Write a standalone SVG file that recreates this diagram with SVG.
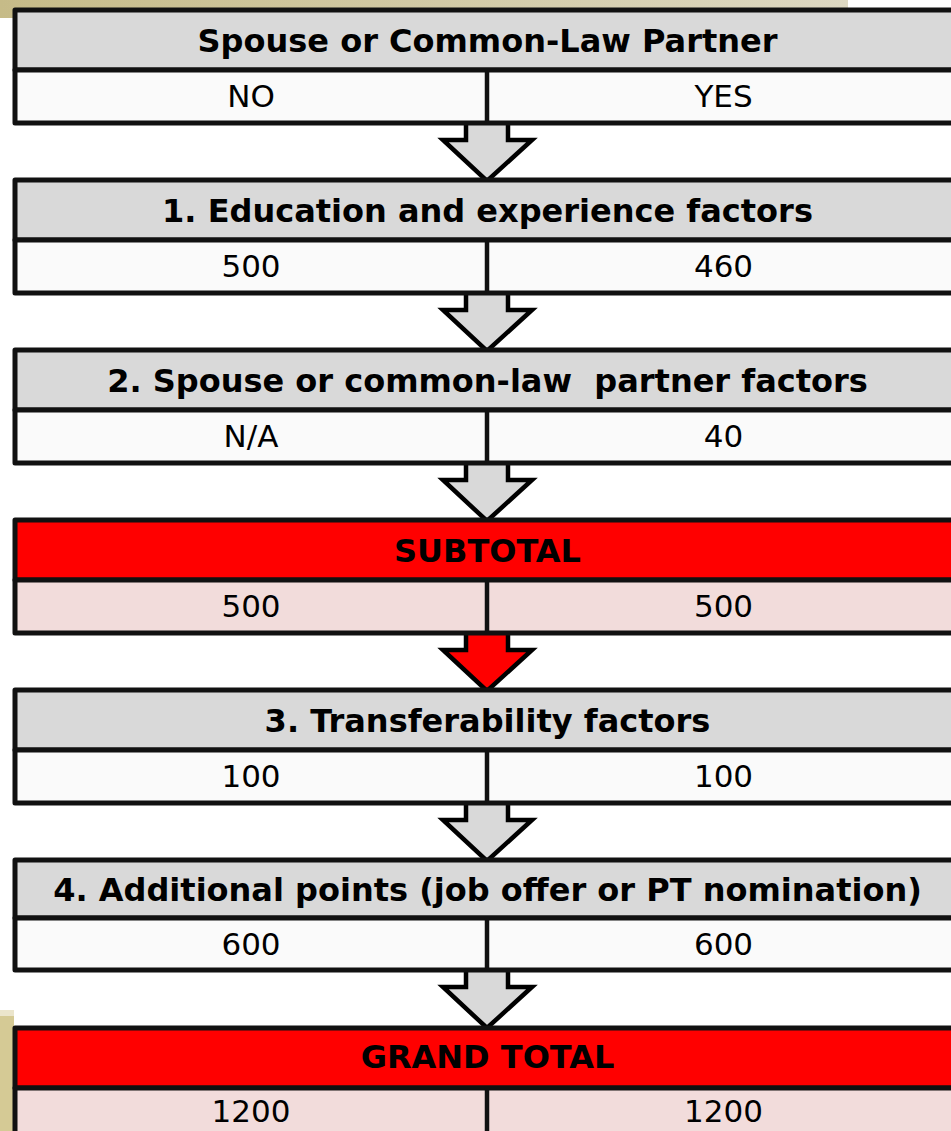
<svg xmlns="http://www.w3.org/2000/svg" width="951" height="1131" viewBox="0 0 951 1131">
<defs>
<linearGradient id="tan" x1="0" y1="0" x2="1" y2="0">
<stop offset="0" stop-color="#c6bb88"/>
<stop offset="1" stop-color="#ddd8c2"/>
</linearGradient>
<style>
.frame{stroke:#111;stroke-width:5;stroke-linejoin:round}
.hd{fill:#d9d9d9}
.rw{fill:#fafafa}
.rd{fill:#ff0000}
.pk{fill:#f2dcdb}
.ln{stroke:#111;stroke-width:4.5;fill:none}
.arr{stroke:#000;stroke-width:4.5;stroke-linejoin:miter}
.bt{font-family:"DejaVu Sans",Verdana,sans-serif;font-weight:bold;font-size:32px;text-anchor:middle;fill:#000}
.rt{font-family:"DejaVu Sans",Verdana,sans-serif;font-size:31px;text-anchor:middle;fill:#000}
</style>
</defs>
<rect width="951" height="1131" fill="#fff"/>
<rect x="0" y="0" width="848" height="18" fill="url(#tan)"/>
<rect x="0" y="1010" width="14" height="121" fill="#d5ca95"/>
<rect x="0" y="1010" width="14" height="6" fill="#ebe5cc"/>

<g id="connectors">
<path class="arr" fill="#d9d9d9" d="M466,123 V140 H443 L487,181 L532,140 H508 V123"/>
<path class="arr" fill="#d9d9d9" d="M466,293 V310 H443 L487,351 L532,310 H508 V293"/>
<path class="arr" fill="#d9d9d9" d="M466,463 V480 H443 L487,521 L532,480 H508 V463"/>
<path class="arr" fill="#ff0000" d="M466,633 V650 H443 L487,691 L532,650 H508 V633"/>
<path class="arr" fill="#d9d9d9" d="M466,803 V820 H443 L487,861 L532,820 H508 V803"/>
<path class="arr" fill="#d9d9d9" d="M466,970 V987 H443 L487,1028 L532,987 H508 V970"/>
</g>

<g id="node-spouse">
<rect class="hd frame" x="15" y="10" width="950" height="60"/>
<rect class="rw frame" x="15" y="70" width="950" height="53"/>
<line class="ln" x1="487" y1="70" x2="487" y2="123"/>
<text class="bt" x="487.5" y="52">Spouse or Common-Law Partner</text>
<text class="rt" x="251" y="107">NO</text>
<text class="rt" x="723.5" y="107">YES</text>
</g>

<g id="node-education">
<rect class="hd frame" x="15" y="180" width="950" height="60"/>
<rect class="rw frame" x="15" y="240" width="950" height="53"/>
<line class="ln" x1="487" y1="240" x2="487" y2="293"/>
<text class="bt" x="487.5" y="222">1. Education and experience factors</text>
<text class="rt" x="251" y="277">500</text>
<text class="rt" x="723.5" y="277">460</text>
</g>

<g id="node-partner">
<rect class="hd frame" x="15" y="350" width="950" height="60"/>
<rect class="rw frame" x="15" y="410" width="950" height="53"/>
<line class="ln" x1="487" y1="410" x2="487" y2="463"/>
<text class="bt" x="487.5" y="392" xml:space="preserve">2. Spouse or common-law  partner factors</text>
<text class="rt" x="251" y="447">N/A</text>
<text class="rt" x="723.5" y="447">40</text>
</g>

<g id="node-subtotal">
<rect class="rd frame" x="15" y="520" width="950" height="60"/>
<rect class="pk frame" x="15" y="580" width="950" height="53"/>
<line class="ln" x1="487" y1="580" x2="487" y2="633"/>
<text class="bt" x="487.5" y="562">SUBTOTAL</text>
<text class="rt" x="251" y="617">500</text>
<text class="rt" x="723.5" y="617">500</text>
</g>

<g id="node-transfer">
<rect class="hd frame" x="15" y="690" width="950" height="60"/>
<rect class="rw frame" x="15" y="750" width="950" height="53"/>
<line class="ln" x1="487" y1="750" x2="487" y2="803"/>
<text class="bt" x="487.5" y="732">3. Transferability factors</text>
<text class="rt" x="251" y="787">100</text>
<text class="rt" x="723.5" y="787">100</text>
</g>

<g id="node-additional">
<rect class="hd frame" x="15" y="860" width="950" height="58"/>
<rect class="rw frame" x="15" y="918" width="950" height="52"/>
<line class="ln" x1="487" y1="918" x2="487" y2="970"/>
<text class="bt" x="487.5" y="901">4. Additional points (job offer or PT nomination)</text>
<text class="rt" x="251" y="955">600</text>
<text class="rt" x="723.5" y="955">600</text>
</g>

<g id="node-grandtotal">
<rect class="rd frame" x="15" y="1028" width="950" height="60"/>
<rect class="pk frame" x="15" y="1088" width="950" height="60"/>
<line class="ln" x1="487" y1="1088" x2="487" y2="1140"/>
<text class="bt" x="487.5" y="1068">GRAND TOTAL</text>
<text class="rt" x="251" y="1122">1200</text>
<text class="rt" x="723.5" y="1122">1200</text>
</g>
</svg>
